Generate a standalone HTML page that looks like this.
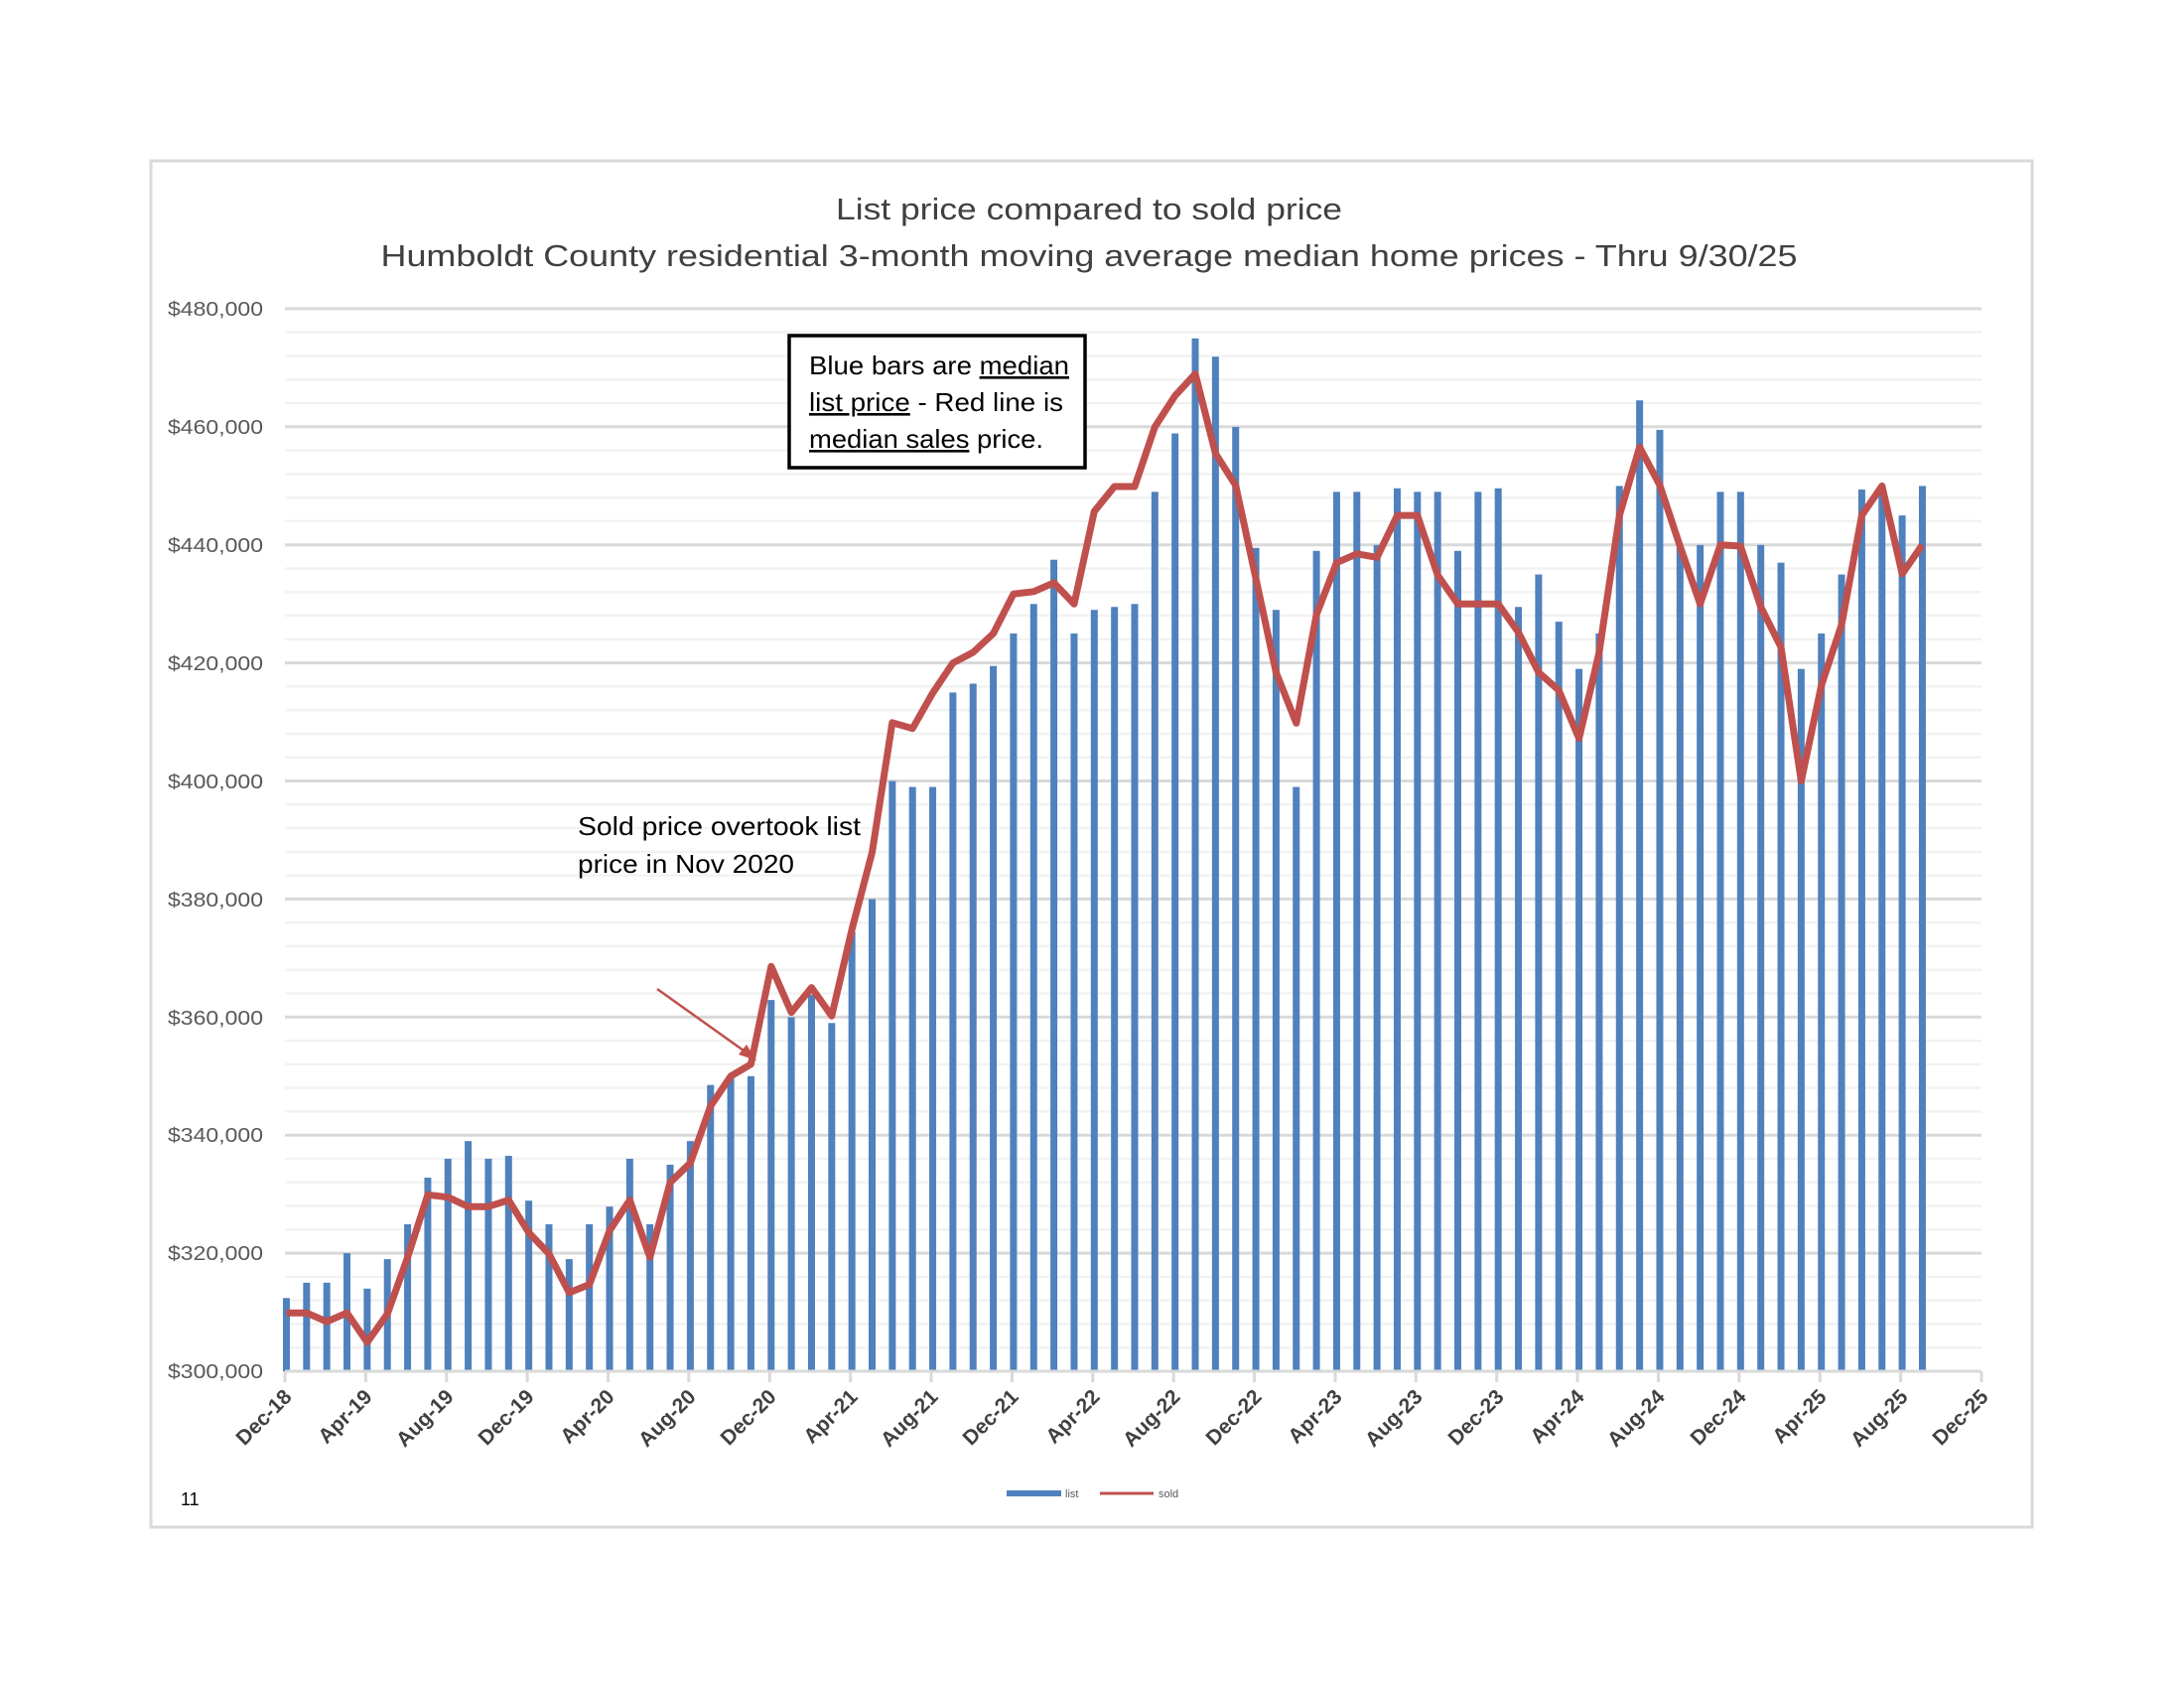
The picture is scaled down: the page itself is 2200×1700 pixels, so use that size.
<!DOCTYPE html>
<html><head><meta charset="utf-8"><style>
html,body{margin:0;padding:0;background:#fff;}
svg{display:block;}
text{font-family:"Liberation Sans",Arial,sans-serif;}
</style></head><body>
<svg id="s" width="2200" height="1700" viewBox="0 0 2200 1700" xmlns="http://www.w3.org/2000/svg">
<rect x="0" y="0" width="2200" height="1700" fill="#fff"/>
<rect x="152" y="162" width="1895" height="1376" fill="#fff" stroke="#d9d9d9" stroke-width="3"/>
<g id="grid"></g>
<g id="bars"></g>
<line x1="287" y1="1381" x2="1996" y2="1381" stroke="#d9d9d9" stroke-width="3"/>
<g id="ticks"></g>
<polyline id="sold" fill="none" stroke="#c0504d" stroke-width="7" stroke-linejoin="round"/>
<text x="1097" y="221" text-anchor="middle" font-size="31" fill="#404040" textLength="510" lengthAdjust="spacingAndGlyphs">List price compared to sold price</text>
<text x="1097" y="268" text-anchor="middle" font-size="31" fill="#404040" textLength="1427" lengthAdjust="spacingAndGlyphs">Humboldt County residential 3-month moving average median home prices - Thru 9/30/25</text>
<g font-size="20" fill="#595959" text-anchor="end">
<text x="265" y="318" textLength="96" lengthAdjust="spacingAndGlyphs">$480,000</text>
<text x="265" y="437" textLength="96" lengthAdjust="spacingAndGlyphs">$460,000</text>
<text x="265" y="556" textLength="96" lengthAdjust="spacingAndGlyphs">$440,000</text>
<text x="265" y="675" textLength="96" lengthAdjust="spacingAndGlyphs">$420,000</text>
<text x="265" y="794" textLength="96" lengthAdjust="spacingAndGlyphs">$400,000</text>
<text x="265" y="913" textLength="96" lengthAdjust="spacingAndGlyphs">$380,000</text>
<text x="265" y="1032" textLength="96" lengthAdjust="spacingAndGlyphs">$360,000</text>
<text x="265" y="1150" textLength="96" lengthAdjust="spacingAndGlyphs">$340,000</text>
<text x="265" y="1269" textLength="96" lengthAdjust="spacingAndGlyphs">$320,000</text>
<text x="265" y="1388" textLength="96" lengthAdjust="spacingAndGlyphs">$300,000</text>
</g>
<g font-size="21" font-weight="bold" fill="#404040" text-anchor="end">
<text transform="translate(295,1408) rotate(-45)">Dec-18</text>
<text transform="translate(376,1408) rotate(-45)">Apr-19</text>
<text transform="translate(458,1408) rotate(-45)">Aug-19</text>
<text transform="translate(539,1408) rotate(-45)">Dec-19</text>
<text transform="translate(620,1408) rotate(-45)">Apr-20</text>
<text transform="translate(702,1408) rotate(-45)">Aug-20</text>
<text transform="translate(783,1408) rotate(-45)">Dec-20</text>
<text transform="translate(865,1408) rotate(-45)">Apr-21</text>
<text transform="translate(946,1408) rotate(-45)">Aug-21</text>
<text transform="translate(1027,1408) rotate(-45)">Dec-21</text>
<text transform="translate(1109,1408) rotate(-45)">Apr-22</text>
<text transform="translate(1190,1408) rotate(-45)">Aug-22</text>
<text transform="translate(1272,1408) rotate(-45)">Dec-22</text>
<text transform="translate(1353,1408) rotate(-45)">Apr-23</text>
<text transform="translate(1434,1408) rotate(-45)">Aug-23</text>
<text transform="translate(1516,1408) rotate(-45)">Dec-23</text>
<text transform="translate(1597,1408) rotate(-45)">Apr-24</text>
<text transform="translate(1678,1408) rotate(-45)">Aug-24</text>
<text transform="translate(1760,1408) rotate(-45)">Dec-24</text>
<text transform="translate(1841,1408) rotate(-45)">Apr-25</text>
<text transform="translate(1923,1408) rotate(-45)">Aug-25</text>
<text transform="translate(2004,1408) rotate(-45)">Dec-25</text>
</g>
<rect x="795" y="338" width="298" height="133" fill="#fff" stroke="#000" stroke-width="3.5"/>
<g font-size="26" fill="#000">
<text x="815" y="377" textLength="262" lengthAdjust="spacingAndGlyphs">Blue bars are <tspan text-decoration="underline">median</tspan></text>
<text x="815" y="414" textLength="256" lengthAdjust="spacingAndGlyphs"><tspan text-decoration="underline">list price</tspan> - Red line is</text>
<text x="815" y="451" textLength="236" lengthAdjust="spacingAndGlyphs"><tspan text-decoration="underline">median sales</tspan> price.</text>
<text x="582" y="841" textLength="285" lengthAdjust="spacingAndGlyphs">Sold price overtook list</text>
<text x="582" y="879" textLength="218" lengthAdjust="spacingAndGlyphs">price in Nov 2020</text>
</g>
<line x1="662" y1="996" x2="756" y2="1063" stroke="#c0504d" stroke-width="2.5"/>
<polygon points="762,1068 744,1062 752,1052" fill="#c0504d"/>
<rect x="1014" y="1501" width="55" height="6" fill="#4f81bd"/>
<text x="1073" y="1508" font-size="11" fill="#595959">list</text>
<line x1="1108" y1="1504" x2="1162" y2="1504" stroke="#c0504d" stroke-width="3"/>
<text x="1167" y="1508" font-size="11" fill="#595959">sold</text>
<text x="182" y="1516" font-size="18" fill="#000">11</text>
</svg>
<script>
(function(){
var NS="http://www.w3.org/2000/svg";
var list=[312.4,315,315,320,314,319,324.9,332.8,336,339,336,336.5,328.9,324.9,319,324.9,327.9,336,324.9,335,339,348.5,349.7,350,362.9,360,363.8,359,374.5,380,400,399,399,415,416.5,419.5,425,430,437.5,425,429,429.5,430,449,458.9,475,471.9,460,439.5,429,399,439,449,449,440,449.6,449,449,439,449,449.6,429.5,435,427,419,425,450,464.5,459.5,440,440,449,449,440,437,419,425,435,449.4,450,445,450];
var sold=[309.9,309.9,308.4,309.9,304.9,309.7,319.3,329.9,329.5,327.9,327.9,329,323.5,319.9,313.3,314.7,323.8,329,319.3,332,335.3,344.9,350,352,368.6,360.8,365,360.2,374.9,387.9,409.9,408.9,414.9,420,421.8,425,431.7,432.1,433.6,430,445.7,449.9,449.9,460,465.3,469,455.5,450.1,434.3,418.4,409.8,428.2,437,438.5,437.9,445,445,434.9,430,430,430,425.2,418.4,415.4,407.2,421.8,445,456.6,450.1,439.8,430,440,439.8,429.5,422.7,400,416.2,426.5,445,450,435.1,440];
function Y(v){return 1381-(v-300)*5.944;}
function X(i){return 287+i*20.345;}
var g=document.getElementById("grid");
for(var j=1;j<=45;j++){var y=1381-j*23.78;var l=document.createElementNS(NS,"line");
l.setAttribute("x1",287);l.setAttribute("x2",1996);l.setAttribute("y1",y);l.setAttribute("y2",y);
l.setAttribute("stroke",j%5==0?"#d9d9d9":"#f2f2f2");l.setAttribute("stroke-width",j%5==0?3:2.5);g.appendChild(l);}
var b=document.getElementById("bars");
for(var i=0;i<list.length;i++){var r=document.createElementNS(NS,"rect");var y=Y(list[i]);
r.setAttribute("x",X(i)-2);r.setAttribute("y",y);r.setAttribute("width",7);r.setAttribute("height",1381-y);r.setAttribute("fill","#4f81bd");b.appendChild(r);}
var t=document.getElementById("ticks");
for(var k=0;k<=21;k++){var x=287+k*81.38;var l=document.createElementNS(NS,"line");
l.setAttribute("x1",x);l.setAttribute("x2",x);l.setAttribute("y1",1381);l.setAttribute("y2",1392);l.setAttribute("stroke","#d9d9d9");l.setAttribute("stroke-width",3);t.appendChild(l);}
var p=[];for(var i=0;i<sold.length;i++){p.push((X(i)+1.5).toFixed(1)+","+Y(sold[i]).toFixed(1));}
document.getElementById("sold").setAttribute("points",p.join(" "));
})();
</script>
</body></html>
